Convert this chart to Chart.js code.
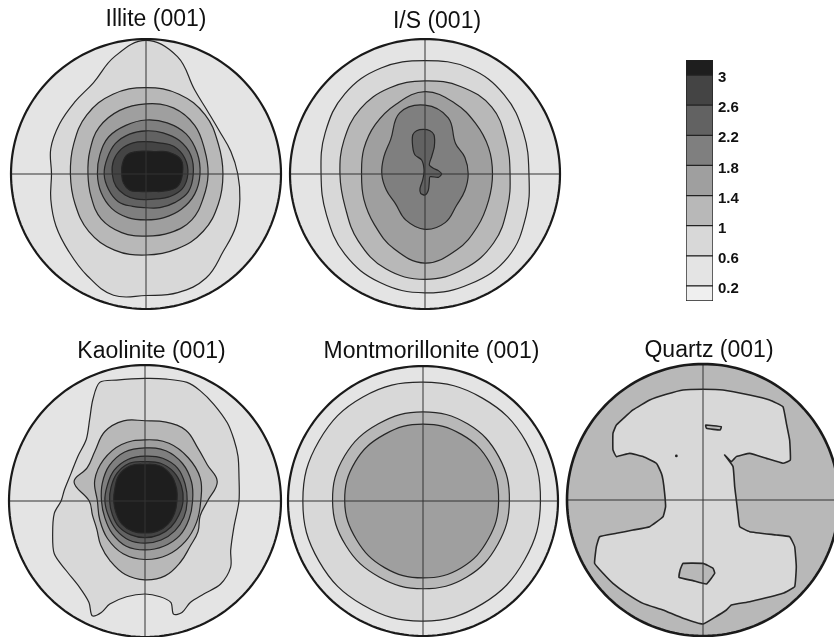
<!DOCTYPE html>
<html>
<head>
<meta charset="utf-8">
<script src="https://cdn.jsdelivr.net/npm/chart.js@4.4.1/dist/chart.umd.min.js"></script>
<style>
  body { margin: 0; background: #fff; }
  #wrap { position: relative; width: 834px; height: 637px; overflow: hidden; }
  #wrap canvas { position: absolute; }
</style>
</head>
<body>
<div id="wrap"></div>
<script>
// contour levels of the scale bar and the grey of each band (below 0.2 ... above 3)
var levels = [0.2, 0.6, 1, 1.4, 1.8, 2.2, 2.6, 3];
var barRange = [0, 3.2];
var greys = ['#efefef', '#e4e4e4', '#d8d8d8', '#b8b8b8', '#9f9f9f', '#7f7f7f', '#626262', '#444444', '#1e1e1e'];

var titles = ['Illite (001)', 'I/S (001)', 'Kaolinite (001)', 'Montmorillonite (001)', 'Quartz (001)'];

// contour radii as a fraction of the net radius, at equal angle steps from east, counter-clockwise
var illite06 = [0.68, 0.65, 0.63, 0.65, 0.72, 0.90, 0.99, 0.90, 0.78, 0.75, 0.74, 0.73, 0.70, 0.73, 0.77, 0.81, 0.87, 0.93, 0.90, 0.91, 0.89, 0.81, 0.77, 0.72];
var illite10 = [0.57, 0.58, 0.62, 0.64, 0.64, 0.64, 0.62, 0.58, 0.56, 0.57, 0.60, 0.61, 0.60, 0.60, 0.60, 0.58];
var illite14 = [0.46, 0.47, 0.51, 0.53, 0.52, 0.51, 0.49, 0.45, 0.43, 0.44, 0.47, 0.47, 0.46, 0.47, 0.48, 0.46];
var illite18 = [0.40, 0.41, 0.42, 0.41, 0.40, 0.39, 0.39, 0.37, 0.36, 0.36, 0.36, 0.35, 0.34, 0.35, 0.37, 0.39];
var illite22 = [0.35, 0.36, 0.35, 0.33, 0.32, 0.32, 0.32, 0.31, 0.31, 0.30, 0.29, 0.26, 0.25, 0.27, 0.30, 0.34];
var illite26 = [0.31, 0.31, 0.29, 0.25, 0.24, 0.25, 0.26, 0.26, 0.25, 0.24, 0.22, 0.20, 0.19, 0.20, 0.24, 0.29];
var illite30 = [0.27, 0.28, 0.23, 0.18, 0.17, 0.18, 0.20, 0.19, 0.18, 0.18, 0.17, 0.14, 0.13, 0.14, 0.18, 0.25];

var is06 = [0.77, 0.79, 0.83, 0.85, 0.84, 0.85, 0.84, 0.80, 0.77, 0.79, 0.84, 0.87, 0.88, 0.88, 0.87, 0.81];
var is10 = [0.63, 0.65, 0.70, 0.70, 0.69, 0.69, 0.68, 0.65, 0.63, 0.64, 0.70, 0.76, 0.78, 0.76, 0.72, 0.66];
var is14 = [0.50, 0.51, 0.53, 0.57, 0.61, 0.56, 0.52, 0.49, 0.47, 0.49, 0.53, 0.60, 0.66, 0.61, 0.55, 0.51];
var is18 = [0.32, 0.32, 0.32, 0.45, 0.51, 0.49, 0.36, 0.33, 0.32, 0.31, 0.31, 0.37, 0.41, 0.39, 0.33, 0.32];
var is22X = [-0.012, 0.037, 0.067, 0.069, 0.049, 0.032, 0.062, 0.099, 0.123, 0.099, 0.037, 0.032, 0.025, 0.000, -0.032, -0.037, -0.017, -0.007, -0.025, -0.074, -0.091, -0.091, -0.062];
var is22Y = [0.331, 0.321, 0.289, 0.202, 0.128, 0.067, 0.042, 0.025, 0.000, -0.025, -0.020, -0.057, -0.119, -0.156, -0.143, -0.106, -0.044, 0.030, 0.104, 0.141, 0.202, 0.289, 0.321];

var kaol06X = [-0.333, -0.210, 0.000, 0.160, 0.309, 0.407, 0.506, 0.605, 0.654, 0.684, 0.691, 0.691, 0.654, 0.630, 0.630, 0.556, 0.432, 0.333, 0.272, 0.210, 0.190, 0.111, 0.000, -0.136, -0.259, -0.321, -0.388, -0.412, -0.481, -0.580, -0.667, -0.679, -0.667, -0.617, -0.593, -0.543, -0.494, -0.432, -0.407, -0.383];
var kaol06Y = [0.872, 0.889, 0.901, 0.896, 0.872, 0.810, 0.711, 0.575, 0.452, 0.328, 0.180, 0.000, -0.190, -0.363, -0.486, -0.610, -0.684, -0.746, -0.820, -0.832, -0.746, -0.704, -0.684, -0.704, -0.758, -0.820, -0.844, -0.746, -0.635, -0.511, -0.388, -0.240, -0.091, 0.000, 0.081, 0.205, 0.328, 0.452, 0.600, 0.748];
var kaol10 = [0.46, 0.55, 0.53, 0.55, 0.60, 0.60, 0.59, 0.61, 0.59, 0.52, 0.49, 0.54, 0.41, 0.40, 0.41, 0.46, 0.51, 0.56, 0.58, 0.57, 0.52, 0.47, 0.45, 0.42];
var kaol14 = [0.41, 0.44, 0.45, 0.46, 0.45, 0.45, 0.43, 0.40, 0.35, 0.36, 0.39, 0.42, 0.43, 0.43, 0.42, 0.41];
var kaol18 = [0.35, 0.37, 0.39, 0.40, 0.39, 0.39, 0.37, 0.34, 0.32, 0.32, 0.34, 0.36, 0.36, 0.36, 0.36, 0.35];
var kaol22 = [0.31, 0.32, 0.34, 0.34, 0.33, 0.33, 0.32, 0.30, 0.295, 0.29, 0.30, 0.31, 0.31, 0.31, 0.31, 0.31];
var kaol26 = [0.28, 0.29, 0.30, 0.30, 0.29, 0.30, 0.29, 0.27, 0.26, 0.26, 0.27, 0.27, 0.27, 0.27, 0.27, 0.27];
var kaol30 = [0.235, 0.25, 0.27, 0.28, 0.27, 0.28, 0.27, 0.24, 0.23, 0.23, 0.24, 0.24, 0.235, 0.24, 0.24, 0.235];

var mont06 = [0.87, 0.88, 0.88, 0.88, 0.89, 0.89, 0.89, 0.89, 0.89, 0.89, 0.88, 0.87];
var mont10 = [0.64, 0.65, 0.66, 0.66, 0.66, 0.67, 0.67, 0.66, 0.65, 0.65, 0.65, 0.64];
var mont14 = [0.56, 0.57, 0.57, 0.57, 0.57, 0.58, 0.58, 0.57, 0.57, 0.57, 0.57, 0.56];

// quartz: low (0.6-1) area, a high island inside it, a tiny loop and a dot
var quartzLowX = [0.000, 0.147, 0.343, 0.490, 0.588, 0.613, 0.637, 0.642, 0.588, 0.466, 0.343, 0.245, 0.208, 0.159, 0.221, 0.233, 0.245, 0.257, 0.270, 0.343, 0.539, 0.637, 0.674, 0.686, 0.674, 0.588, 0.343, 0.208, 0.172, 0.000, -0.147, -0.294, -0.441, -0.564, -0.662, -0.735, -0.797, -0.784, -0.760, -0.637, -0.515, -0.392, -0.294, -0.275, -0.282, -0.294, -0.306, -0.343, -0.441, -0.539, -0.637, -0.662, -0.662, -0.637, -0.515, -0.392, -0.270, -0.147];
var quartzLowY = [0.814, 0.809, 0.772, 0.735, 0.686, 0.564, 0.441, 0.294, 0.270, 0.306, 0.343, 0.319, 0.282, 0.331, 0.245, 0.098, 0.000, -0.098, -0.196, -0.233, -0.257, -0.270, -0.343, -0.490, -0.637, -0.686, -0.748, -0.772, -0.809, -0.912, -0.870, -0.809, -0.760, -0.686, -0.613, -0.539, -0.466, -0.343, -0.270, -0.245, -0.221, -0.196, -0.123, -0.049, 0.049, 0.147, 0.196, 0.270, 0.319, 0.343, 0.319, 0.368, 0.490, 0.551, 0.662, 0.735, 0.777, 0.809];
var quartzIslandX = [-0.147, 0.000, 0.074, 0.086, 0.025, -0.074, -0.176, -0.167];
var quartzIslandY = [-0.466, -0.466, -0.502, -0.539, -0.618, -0.593, -0.569, -0.510];
var quartzSpotX = [0.020, 0.135, 0.127, 0.025];
var quartzSpotY = [0.551, 0.539, 0.515, 0.527];
var quartzDotX = [-0.196];
var quartzDotY = [0.324];

function polar(rs) {
    return rs.map(function (v, i) {
        var a = i * 2 * Math.PI / rs.length;
        return {x: v * Math.cos(a), y: v * Math.sin(a)};
    });
}

function xy(xs, ys) {
    return xs.map(function (v, i) { return {x: v, y: ys[i]}; });
}

function rim() {
    var ones = [];
    for (var i = 0; i < 180; i++) ones.push(1);
    return polar(ones);
}

// scatter lines are open by default; close the contour ones like a radar line
var closeLoops = {
    id: 'closeLoops',
    afterDatasetUpdate: function (chart, args) {
        var line = args.meta.dataset;
        if (line && chart.data.datasets[args.index].loop) {
            line._loop = true;
            line._fullLoop = true;
            line._pointsUpdated = false;
            delete line._segments;
            line._path = undefined;
        }
    }
};

var figures = [
    {title: titles[0], cx: 146, cy: 174, r: 135, tx: 156, ty: 19.5, base: 1, lw: 1.2, contours: [
        {pts: polar(illite06), shade: 2}, {pts: polar(illite10), shade: 3}, {pts: polar(illite14), shade: 4},
        {pts: polar(illite18), shade: 5}, {pts: polar(illite22), shade: 6}, {pts: polar(illite26), shade: 7},
        {pts: polar(illite30), shade: 8}]},
    {title: titles[1], cx: 425, cy: 174, r: 135, tx: 437, ty: 21, base: 1, lw: 1.2, contours: [
        {pts: polar(is06), shade: 2}, {pts: polar(is10), shade: 3}, {pts: polar(is14), shade: 4},
        {pts: polar(is18), shade: 5}, {pts: xy(is22X, is22Y), shade: 6, tension: 0.25}]},
    {title: titles[2], cx: 145, cy: 501, r: 136, tx: 151.5, ty: 351.5, base: 1, lw: 1.2, contours: [
        {pts: xy(kaol06X, kaol06Y), shade: 2, tension: 0.3}, {pts: polar(kaol10), shade: 3}, {pts: polar(kaol14), shade: 4},
        {pts: polar(kaol18), shade: 5}, {pts: polar(kaol22), shade: 6}, {pts: polar(kaol26), shade: 7},
        {pts: polar(kaol30), shade: 8}]},
    {title: titles[3], cx: 423, cy: 501, r: 135, tx: 431.5, ty: 351, base: 1, lw: 1.2, contours: [
        {pts: polar(mont06), shade: 2}, {pts: polar(mont10), shade: 3}, {pts: polar(mont14), shade: 4}]},
    {title: titles[4], cx: 703, cy: 500, r: 136, tx: 709, ty: 350.5, base: 3, lw: 1.6, contours: [
        {pts: xy(quartzLowX, quartzLowY), shade: 2, tension: 0.1}, {pts: xy(quartzIslandX, quartzIslandY), shade: 3, tension: 0.1},
        {pts: xy(quartzSpotX, quartzSpotY), shade: 3, tension: 0.1}],
        dots: xy(quartzDotX, quartzDotY)}
];

Chart.defaults.font.family = '"Liberation Sans", Arial, sans-serif';
Chart.defaults.color = '#111';

var wrap = document.getElementById('wrap');

function drawFigure(f) {
    var pad = 4, fs = 23;
    var left = Math.round(f.cx - f.r - pad);
    var w = Math.round(2 * (f.tx - left));
    var top = Math.round(f.ty - fs / 2);
    var pb = Math.max(0, f.cy - f.r - top - fs);
    var h = Math.ceil(fs + pb + 2 * f.r + pad);
    var plotH = h - pad - fs - pb;

    var cv = document.createElement('canvas');
    cv.width = w;
    cv.height = h;
    cv.style.left = left + 'px';
    cv.style.top = top + 'px';
    wrap.appendChild(cv);

    var sets = [];
    sets.push({data: rim(), loop: true, fill: 'shape', backgroundColor: greys[f.base], borderWidth: 0, borderColor: 'rgba(0,0,0,0)', tension: 0});
    f.contours.forEach(function (c) {
        sets.push({data: c.pts, loop: true, fill: 'shape', backgroundColor: greys[c.shade], borderColor: '#262626',
            borderWidth: f.lw, tension: c.tension == null ? 0.4 : c.tension});
    });
    if (f.dots) {
        sets.push({data: f.dots, showLine: false, pointRadius: 1.4, pointBackgroundColor: '#222', pointBorderWidth: 0});
    }
    sets.push({data: [{x: -1, y: 0}, {x: 1, y: 0}], borderColor: '#333', borderWidth: 1, fill: false, tension: 0});
    sets.push({data: [{x: 0, y: -1}, {x: 0, y: 1}], borderColor: '#333', borderWidth: 1, fill: false, tension: 0});
    sets.push({data: rim(), loop: true, borderColor: '#1a1a1a', borderWidth: f.lw + 1, fill: false, tension: 0});

    sets.forEach(function (s, i) {
        s.order = sets.length - i;
        if (s.showLine == null) s.showLine = true;
        if (s.pointRadius == null) s.pointRadius = 0;
        s.clip = false;
    });

    new Chart(cv, {
        type: 'scatter',
        data: {datasets: sets},
        plugins: [closeLoops],
        options: {
            responsive: false,
            animation: false,
            events: [],
            layout: {padding: {left: pad, right: pad, top: 0, bottom: pad}},
            scales: {
                x: {type: 'linear', display: false, min: -1, max: -1 + (w - 2 * pad) / f.r},
                y: {type: 'linear', display: false, max: 1, min: 1 - plotH / f.r}
            },
            plugins: {
                legend: {display: false},
                tooltip: {enabled: false},
                title: {
                    display: true,
                    text: f.title,
                    color: '#111',
                    font: {size: fs, weight: 'normal', lineHeight: 1},
                    padding: {top: 0, bottom: pb}
                }
            }
        }
    });
}

figures.forEach(drawFigure);

// scale bar
var lows = [barRange[0]].concat(levels);
var highs = levels.concat([barRange[1]]);
var bands = lows.map(function (lo, i) {
    return {
        data: [[lo, highs[i]]],
        backgroundColor: greys[i],
        borderColor: '#222',
        borderWidth: 1,
        borderSkipped: false,
        barPercentage: 1,
        categoryPercentage: 1
    };
});

var barCv = document.createElement('canvas');
barCv.width = 74;
barCv.height = 269;
barCv.style.left = '684px';
barCv.style.top = '46px';
wrap.appendChild(barCv);

new Chart(barCv, {
    type: 'bar',
    data: {labels: [''], datasets: bands},
    options: {
        responsive: false,
        animation: false,
        events: [],
        layout: {padding: {top: 12, bottom: 12, left: 2, right: 0}},
        scales: {
            x: {display: false, stacked: true},
            y: {
                position: 'right',
                min: barRange[0],
                max: barRange[1],
                grid: {display: false, drawTicks: false},
                border: {display: false},
                afterBuildTicks: function (scale) {
                    scale.ticks = levels.map(function (v) { return {value: v}; });
                },
                afterFit: function (scale) { scale.width = 45; },
                ticks: {
                    padding: 5,
                    labelOffset: 3,
                    color: '#111',
                    font: {size: 15, weight: 'bold'},
                    callback: function (v) { return String(+v.toFixed(1)); }
                }
            }
        },
        plugins: {legend: {display: false}, tooltip: {enabled: false}}
    }
});
</script>
</body>
</html>
